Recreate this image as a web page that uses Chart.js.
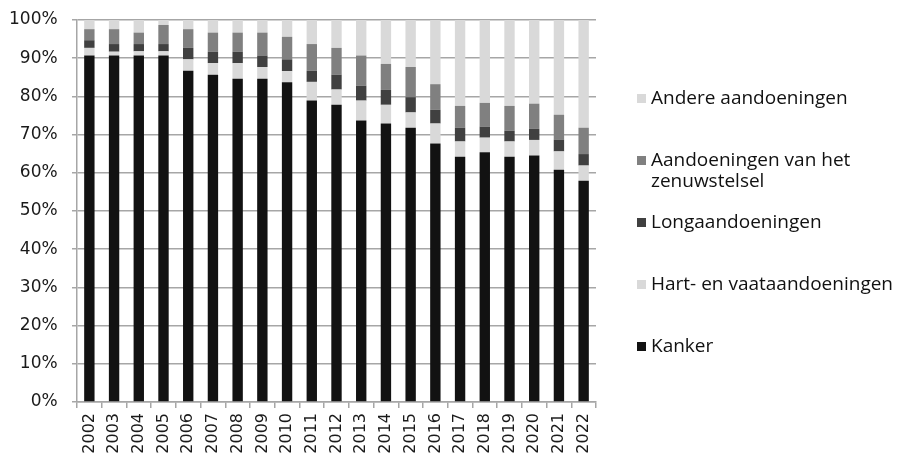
<!DOCTYPE html>
<html>
<head>
<meta charset="utf-8">
<script src="https://cdn.jsdelivr.net/npm/chart.js@4.4.1/dist/chart.umd.min.js"></script>
<style>
  html, body { margin: 0; padding: 0; background: #fff; }
  #wrap { width: 910px; height: 459px; }
</style>
</head>
<body>
<div id="wrap"><canvas id="chart"></canvas></div>
<script>
const years = ['2002','2003','2004','2005','2006','2007','2008','2009','2010','2011','2012',
  '2013','2014','2015','2016','2017','2018','2019','2020','2021','2022'];

const kanker = [90.7,90.7,90.7,90.7,86.7,85.7,84.6,84.6,83.7,78.9,77.8,73.7,72.9,71.8,67.7,64.2,65.4,64.2,64.5,60.8,57.9];
const hartVaat = [2.0,1.0,1.1,1.1,3.0,3.0,4.1,3.1,2.9,4.9,4.0,5.2,4.9,4.0,5.2,4.0,3.8,4.0,4.1,4.8,4.0];
const long = [2.0,2.0,1.9,1.9,3.0,3.0,3.0,3.0,3.1,2.9,3.9,3.9,3.9,4.0,3.6,3.6,2.9,2.8,2.9,3.1,3.0];
const zenuw = [2.9,3.9,3.0,5.0,4.9,5.0,5.0,6.0,5.9,7.0,7.0,7.9,6.8,7.9,6.7,5.7,6.2,6.5,6.6,6.5,6.9];
const andere = [2.4,2.4,3.3,1.3,2.4,3.3,3.3,3.3,4.4,6.3,7.3,9.3,11.5,12.3,16.8,22.5,21.7,22.5,21.9,24.8,28.2];

const seriesLabels = ['Kanker', 'Hart- en vaataandoeningen', 'Longaandoeningen',
  'Aandoeningen van het\nzenuwstelsel', 'Andere aandoeningen'];
const seriesColors = ['#121212', '#d9d9d9', '#404040', '#808080', '#d9d9d9'];
const seriesValues = [kanker, hartVaat, long, zenuw, andere];

const gridGrey = '#a6a6a6';

// legend on the right, drawn by hand so the two-line label works
const sideLegend = {
  id: 'sideLegend',
  afterDraw(chart) {
    const ctx = chart.ctx;
    const ds = chart.data.datasets.slice().reverse();
    const x = 637;
    let y = 99;
    const step = 62;
    ctx.save();
    ctx.font = '19px "Open Sans"';
    ctx.textBaseline = 'middle';
    ds.forEach((d, i) => {
      const lines = d.label.split('\n');
      ctx.fillStyle = d.backgroundColor;
      ctx.fillRect(x, y - 5, 9, 9);
      ctx.fillStyle = '#111';
      lines.forEach((ln, j) => ctx.fillText(ln, x + 14, y + j * 21));
      y += step;
    });
    ctx.restore();
  }
};

new Chart(document.getElementById('chart'), {
  type: 'bar',
  data: {
    labels: years,
    datasets: seriesValues.map((vals, i) => ({
      label: seriesLabels[i],
      data: vals,
      backgroundColor: seriesColors[i],
      borderWidth: 0,
      barPercentage: 0.42,
      categoryPercentage: 1.0
    }))
  },
  options: {
    responsive: true,
    maintainAspectRatio: false,
    animation: false,
    layout: { padding: { top: 20, right: 314, left: 0, bottom: 0 } },
    plugins: {
      legend: { display: false },
      tooltip: { enabled: false }
    },
    scales: {
      x: {
        stacked: true,
        afterFit: s => { s.height = 57; },
        grid: { display: true, drawOnChartArea: false, drawTicks: true, tickLength: 6, color: gridGrey, lineWidth: 1.5 },
        border: { display: true, color: gridGrey, width: 1.5 },
        ticks: {
          maxRotation: 90, minRotation: 90,
          autoSkip: false,
          color: '#1a1a1a',
          font: { family: 'DejaVu Sans', size: 16 },
          padding: 5
        }
      },
      y: {
        stacked: true,
        min: 0, max: 100,
        afterFit: s => { s.width = 77; },
        grid: { color: gridGrey, lineWidth: 1.5, tickLength: 5 },
        border: { display: true, color: gridGrey, width: 1.5 },
        ticks: {
          stepSize: 10,
          color: '#1a1a1a',
          padding: 9,
          font: { family: 'DejaVu Sans', size: 17 },
          // trailing space keeps the labels a bit further from the axis
          callback: v => v + '% '
        }
      }
    }
  },
  plugins: [sideLegend]
});
</script>
</body>
</html>
